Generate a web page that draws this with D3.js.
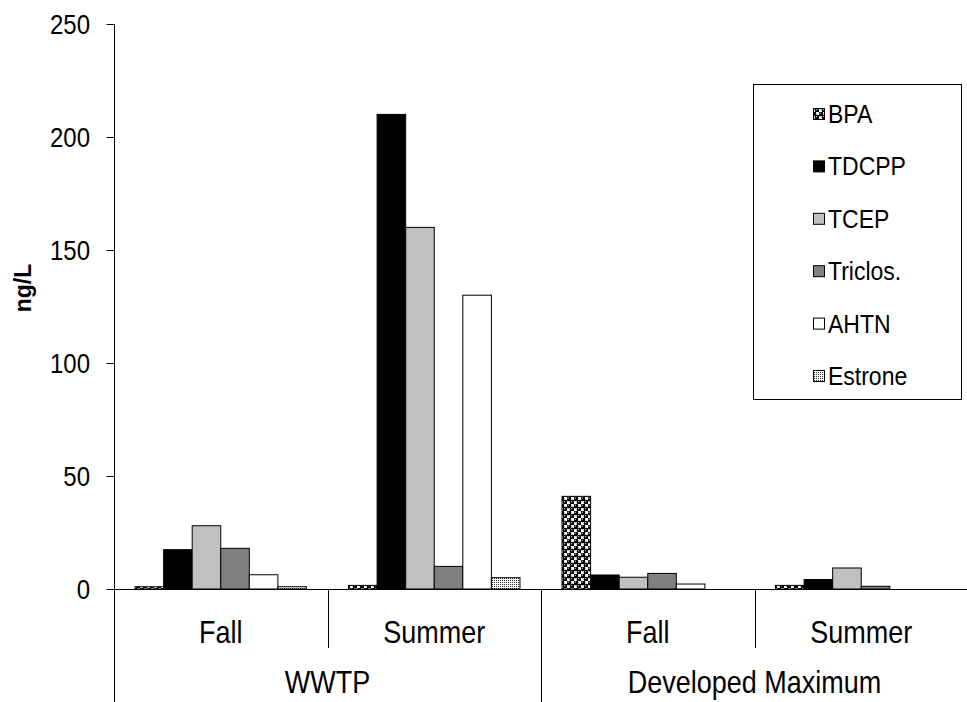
<!DOCTYPE html>
<html><head><meta charset="utf-8">
<script src="https://cdn.jsdelivr.net/npm/d3@7"></script>
<style>body{margin:0;background:#fff}svg{display:block}text{font-family:Arial,"Liberation Sans",sans-serif;fill:#000}</style>
</head><body>
<svg id="c" width="967" height="702"></svg>
<script>
const categories = ["Fall", "Summer", "Fall", "Summer"];
const groups = ["WWTP", "Developed Maximum"];
const seriesNames = ["BPA", "TDCPP", "TCEP", "Triclos.", "AHTN", "Estrone"];
const BPA = [1, 1.6, 41, 1.6];
const TDCPP = [17.4, 210, 6.2, 4.2];
const TCEP = [28, 160, 5.2, 9.3];
const Triclos = [18, 10, 6.9, 1.2];
const AHTN = [6.3, 130, 2.2, 0];
const Estrone = [1, 5, 0, 0];
const yTicks = [0, 50, 100, 150, 200, 250];

const seriesValues = [BPA, TDCPP, TCEP, Triclos, AHTN, Estrone];
const fills = ["url(#pBPA)", "#000000", "#c0c0c0", "#808080", "#ffffff", "url(#pEst)"];
const SY = 1.15; // vertical text stretch of the original

const svg = d3.select("#c");
const defs = svg.append("defs");
const p1 = defs.append("pattern").attr("id", "pBPA").attr("width", 7).attr("height", 7).attr("patternUnits", "userSpaceOnUse");
p1.append("rect").attr("width", 7).attr("height", 7).attr("fill", "#fff");
p1.append("circle").attr("cx", 1.75).attr("cy", 1.75).attr("r", 2.5).attr("fill", "#000");
p1.append("circle").attr("cx", 5.25).attr("cy", 5.25).attr("r", 2.5).attr("fill", "#000");
p1.append("circle").attr("cx", 1.2).attr("cy", 1.2).attr("r", 0.6).attr("fill", "#fff");
p1.append("circle").attr("cx", 4.7).attr("cy", 4.7).attr("r", 0.6).attr("fill", "#fff");
const p2 = defs.append("pattern").attr("id", "pEst").attr("width", 2).attr("height", 2).attr("patternUnits", "userSpaceOnUse");
p2.append("rect").attr("width", 2).attr("height", 2).attr("fill", "#fff");
p2.append("rect").attr("width", 1).attr("height", 1).attr("fill", "#333");

const x0 = 114, x1 = 968, yBase = 589, yTop = 24;
const x = d3.scaleBand().domain(d3.range(categories.length)).range([x0, x1]).padding(0);
const bw = x.bandwidth();
const xs = d3.scaleBand().domain(d3.range(seriesNames.length)).range([bw * 0.0985, bw * 0.9015]).padding(0);
const y = d3.scaleLinear().domain([0, 250]).range([yBase, yTop]);

function label(g, tx, ty, str, size, anchor, weight) {
  return g.append("text")
    .attr("transform", `translate(${tx},${ty}) scale(1,${SY})`)
    .attr("text-anchor", anchor || "middle")
    .attr("font-size", size)
    .attr("font-weight", weight || "normal")
    .text(str);
}

// bars
seriesValues.forEach((vals, si) => {
  svg.append("g").selectAll("rect").data(vals.map((v, ci) => ({v, ci}))).join("rect")
    .filter(d => d.v > 0)
    .attr("x", d => x(d.ci) + xs(si))
    .attr("y", d => y(d.v))
    .attr("width", xs.bandwidth())
    .attr("height", d => yBase - y(d.v))
    .attr("fill", fills[si])
    .attr("stroke", "#000").attr("stroke-width", 1);
});

// y axis
const yAxis = d3.axisLeft(y).tickValues(yTicks).tickSize(8).tickFormat("");
const ga = svg.append("g").attr("transform", `translate(${x0 + 0.5},0)`).call(yAxis);
ga.select(".domain").remove();
ga.selectAll(".tick line").attr("stroke", "#000");
yTicks.forEach(t => label(svg, 90, y(t) + 9.5, String(t), 24, "end"));
svg.append("line").attr("x1", x0 + 0.5).attr("x2", x0 + 0.5).attr("y1", yTop).attr("y2", 702).attr("stroke", "#000");
svg.append("line").attr("x1", x0).attr("x2", x1).attr("y1", yBase + 0.5).attr("y2", yBase + 0.5).attr("stroke", "#000");

// y label
svg.append("text").attr("transform", `translate(31,288) rotate(-90)`).attr("text-anchor", "middle")
  .attr("font-size", 23).attr("font-weight", "bold").text("ng/L");

// category dividers
d3.range(1, categories.length).forEach(i => {
  const long = i === categories.length / groups.length;
  svg.append("line").attr("x1", Math.round(x(i)) + 0.5).attr("x2", Math.round(x(i)) + 0.5)
    .attr("y1", yBase).attr("y2", long ? 702 : 648).attr("stroke", "#000");
});
categories.forEach((c, i) => label(svg, x(i) + bw / 2, 643, c, 27));
groups.forEach((g, gi) => {
  const per = categories.length / groups.length;
  label(svg, x(gi * per) + bw * per / 2, 693, g, 27);
});

// legend
svg.append("rect").attr("x", 753.5).attr("y", 84.5).attr("width", 208).attr("height", 315)
  .attr("fill", "#fff").attr("stroke", "#000");
const ly = d3.scalePoint().domain(seriesNames).range([114, 376]);
seriesNames.forEach((n, i) => {
  svg.append("rect").attr("x", 813.5).attr("y", ly(n) - 5.5).attr("width", 11).attr("height", 11)
    .attr("fill", fills[i]).attr("stroke", "#000");
  label(svg, 828, ly(n) + 9, n, 23, "start");
});
</script>
</body></html>
